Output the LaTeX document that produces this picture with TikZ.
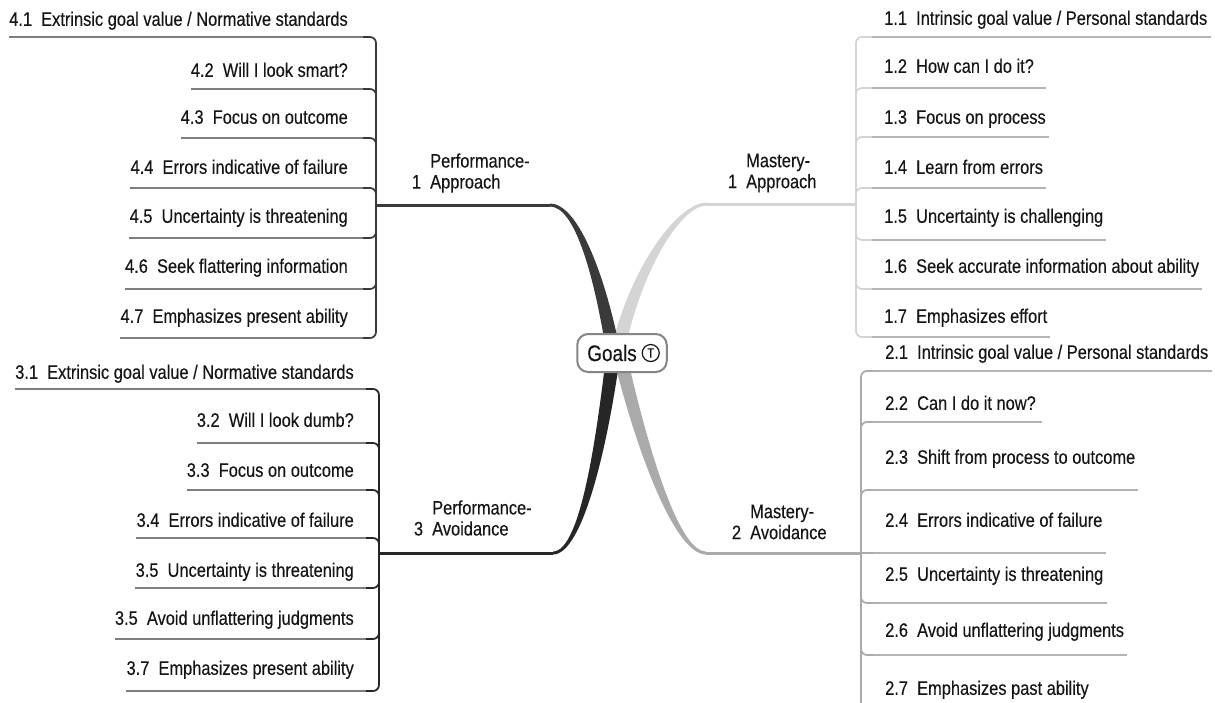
\documentclass[tikz,border=0pt]{standalone}
\usepackage{fontspec}
\setmainfont{Liberation Sans}[FakeStretch=0.842,FakeBold=0.25]
\usetikzlibrary{calc}
\definecolor{txt}{HTML}{151515}
\definecolor{darkA}{HTML}{3A3A3A}
\definecolor{darkB}{HTML}{262626}
\definecolor{ulL}{HTML}{7E7E7E}
\definecolor{lightA}{HTML}{D4D4D4}
\definecolor{ulRa}{HTML}{B4B4B4}
\definecolor{grayB}{HTML}{AAAAAA}
\definecolor{boxc}{HTML}{858585}
\newcommand\itemfont{\fontsize{19.5}{21}\selectfont}
\begin{document}
\begin{tikzpicture}[x=1pt,y=-1pt,
  itemL/.style={anchor=south east, inner xsep=0pt, inner ysep=#1, text depth=0pt, font=\itemfont, text=txt},
  itemR/.style={anchor=south west, inner xsep=0pt, inner ysep=#1, text depth=0pt, font=\itemfont, text=txt},
  branchlbl/.style={anchor=west, align=left, inner sep=0pt, font=\itemfont, text=txt},
  ulineL/.style={draw=ulL, line width=2.2pt},
  ulineR/.style={draw=ulRa, line width=2.2pt},
  brLone/.style={draw=darkA, line width=1.7pt, rounded corners=6pt},
  brLthree/.style={draw=darkB, line width=1.7pt, rounded corners=6pt},
  brRone/.style={draw=lightA, line width=1.7pt, rounded corners=6pt},
  brRtwo/.style={draw=grayB, line width=1.7pt, rounded corners=6pt},
  goalbox/.style={draw=boxc, line width=2pt, fill=white, rounded corners=11pt, minimum height=38pt, inner xsep=10pt, font=\fontsize{22.5}{22}\selectfont, text=txt},
  tcircle/.style={circle, draw=txt, line width=1.2pt, inner sep=0pt, minimum size=17pt, font=\fontsize{13.5}{13}\selectfont, text=txt}
]
\useasboundingbox (0,0) rectangle (1215,702);
\clip (0,0) rectangle (1215,702);
\fill[white] (0,0) rectangle (1215,702);

% junctions
\coordinate (gc) at (622,353);
\coordinate (jL1) at (376,205);
\coordinate (eL1) at (550,205);
\coordinate (jL3) at (379,553);
\coordinate (eL3) at (553,553);
\coordinate (jR1) at (856,204);
\coordinate (eR1) at (707,204);
\coordinate (jR2) at (861,553);
\coordinate (eR2) at (706,553);

% tapered main branches
\fill[lightA] ($(eR1)+(0,-1.5)$) .. controls +(-30,0) and +(18,-80) .. ($(gc)+(-11,-3)$)
  -- ($(gc)+(3,-3)$) .. controls +(16,-78) and +(-27,0) .. ($(eR1)+(0,1.5)$) -- cycle;
\fill[grayB] ($(eR2)+(0,1.5)$) .. controls +(-32,0) and +(22,90) .. ($(gc)+(-9,3)$)
  -- ($(gc)+(5,3)$) .. controls +(20,88) and +(-28,0) .. ($(eR2)+(0,-1.5)$) -- cycle;
\fill[darkA] ($(eL1)+(0,-1.5)$) .. controls +(27,0) and +(-16,-80) .. ($(gc)+(-2,-3)$)
  -- ($(gc)+(-16,-3)$) .. controls +(-13,-80) and +(24,0) .. ($(eL1)+(0,1.5)$) -- cycle;
\fill[darkB] ($(eL3)+(0,1.5)$) .. controls +(30,0) and +(-12,88) .. ($(gc)+(-2,3)$)
  -- ($(gc)+(-16,3)$) .. controls +(-10,85) and +(27,0) .. ($(eL3)+(0,-1.5)$) -- cycle;

\draw[darkA, line width=3pt] (jL1) -- (eL1);
\draw[darkB, line width=3pt] (jL3) -- (eL3);
\draw[lightA, line width=3pt] (jR1) -- (eR1);
\draw[grayB, line width=3pt] (jR2) -- (eR2);

% central topic
\node[goalbox] (goals) at (gc) {Goals\hspace*{20pt}};
\node[tcircle] (tmark) at ($(goals.east)+(-17,0)$) {T};

% branch labels
\node[branchlbl] (p1) at (430,173) {Performance-\\\llap{1~~}Approach};
\node[branchlbl] (p3) at (432,518) {Performance-\\\llap{3~~}Avoidance};
\node[branchlbl] (m1) at (746,173) {Mastery-\\\llap{1~~}Approach};
\node[branchlbl] (m2) at (750,522) {Mastery-\\\llap{2~~}Avoidance};

% left top items (4.x)
\node[itemL=11pt] (a41) at (363,37)  {4.1~~Extrinsic goal value / Normative standards\hspace*{15pt}};
\node[itemL=12pt] (a42) at (363,89)  {4.2~~Will I look smart?\hspace*{15pt}};
\node[itemL=14pt] (a43) at (363,138) {4.3~~Focus on outcome\hspace*{15pt}};
\node[itemL=14pt] (a44) at (363,188) {4.4~~Errors indicative of failure\hspace*{15pt}};
\node[itemL=15pt] (a45) at (363,238) {4.5~~Uncertainty is threatening\hspace*{15pt}};
\node[itemL=16pt] (a46) at (363,289) {4.6~~Seek flattering information\hspace*{15pt}};
\node[itemL=15pt] (a47) at (363,338) {4.7~~Emphasizes present ability\hspace*{15pt}};
\foreach \n in {a41,a42,a43,a44,a45,a46,a47}{
  \draw[brLone] (jL1) |- (\n.south east);
  \draw[ulineL] (\n.south west) -- (\n.south east);
}

% left bottom items (3.x)
\node[itemL=10pt] (c31) at (366,389) {3.1~~Extrinsic goal value / Normative standards\hspace*{12pt}};
\node[itemL=16pt] (c32) at (366,443) {3.2~~Will I look dumb?\hspace*{12pt}};
\node[itemL=13pt] (c33) at (366,490) {3.3~~Focus on outcome\hspace*{12pt}};
\node[itemL=11pt] (c34) at (366,538) {3.4~~Errors indicative of failure\hspace*{12pt}};
\node[itemL=11pt] (c35) at (366,588) {3.5~~Uncertainty is threatening\hspace*{12pt}};
\node[itemL=14pt] (c36) at (366,639) {3.5~~Avoid unflattering judgments\hspace*{12pt}};
\node[itemL=16pt] (c37) at (366,691) {3.7~~Emphasizes present ability\hspace*{12pt}};
\foreach \n in {c31,c32,c33,c34,c35,c36,c37}{
  \draw[brLthree] (jL3) |- (\n.south east);
  \draw[ulineL] (\n.south west) -- (\n.south east);
}

% right top items (1.x)
\node[itemR=12pt] (b11) at (872,37)  {\hspace*{12pt}1.1~~Intrinsic goal value / Personal standards\hspace*{3pt}};
\node[itemR=15pt] (b12) at (872,88)  {\hspace*{12pt}1.2~~How can I do it?\hspace*{12pt}};
\node[itemR=13pt] (b13) at (872,137) {\hspace*{12pt}1.3~~Focus on process\hspace*{3pt}};
\node[itemR=14pt] (b14) at (872,188) {\hspace*{12pt}1.4~~Learn from errors\hspace*{3pt}};
\node[itemR=17pt] (b15) at (872,240) {\hspace*{12pt}1.5~~Uncertainty is challenging\hspace*{3pt}};
\node[itemR=16pt] (b16) at (872,289) {\hspace*{12pt}1.6~~Seek accurate information about ability\hspace*{3pt}};
\node[itemR=14pt] (b17) at (872,337) {\hspace*{12pt}1.7~~Emphasizes effort\hspace*{3pt}};
\foreach \n in {b11,b12,b13,b14,b15,b16,b17}{
  \draw[brRone] (jR1) |- (\n.south west);
  \draw[ulineR] (\n.south west) -- (\n.south east);
}

% right bottom items (2.x)
\node[itemR=12pt] (d21) at (873,371) {\hspace*{12pt}2.1~~Intrinsic goal value / Personal standards\hspace*{3pt}};
\node[itemR=12pt] (d22) at (873,422) {\hspace*{12pt}2.2~~Can I do it now?\hspace*{6pt}};
\node[itemR=26pt] (d23) at (873,490) {\hspace*{12pt}2.3~~Shift from process to outcome\hspace*{3pt}};
\node[itemR=26pt] (d24) at (873,553) {\hspace*{12pt}2.4~~Errors indicative of failure\hspace*{3pt}};
\node[itemR=22pt] (d25) at (873,603) {\hspace*{12pt}2.5~~Uncertainty is threatening\hspace*{3pt}};
\node[itemR=18pt] (d26) at (873,655) {\hspace*{12pt}2.6~~Avoid unflattering judgments\hspace*{3pt}};
\node[itemR=17pt] (d27) at (873,712) {\hspace*{12pt}2.7~~Emphasizes past ability\hspace*{3pt}};
\foreach \n in {d21,d22,d23,d25,d26,d27}{
  \draw[brRtwo] (jR2) |- (\n.south west);
}
\draw[brRtwo] (jR2) -- (d24.south west);
\foreach \n in {d21,d22,d23,d24,d25,d26,d27}{
  \draw[ulineR] (\n.south west) -- (\n.south east);
}
\end{tikzpicture}
\end{document}
